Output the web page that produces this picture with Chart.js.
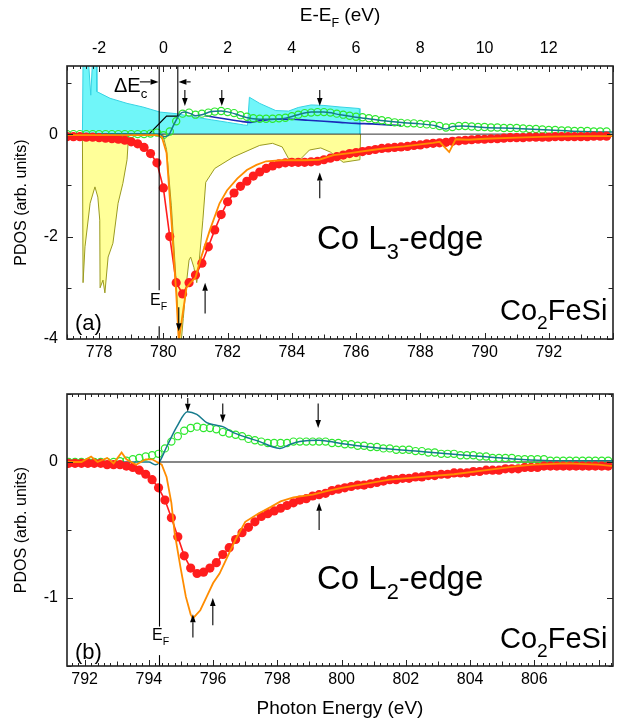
<!DOCTYPE html>
<html><head><meta charset="utf-8">
<script src="https://cdn.jsdelivr.net/npm/chart.js@4.4.1/dist/chart.umd.min.js"></script>
<style>
html,body{margin:0;padding:0;background:#fff;}
#wrap{position:relative;width:624px;height:727px;overflow:hidden;font-family:"Liberation Sans",Arial,Helvetica,sans-serif;color:#000;}
canvas{position:absolute;left:0;}
.lbl{position:absolute;white-space:nowrap;line-height:1;}
.sb{position:relative;font-size:0.66em;top:0.45em;}
</style></head><body>
<div id="wrap">
<canvas id="ca" width="624" height="372" style="top:0"></canvas>
<canvas id="cb" width="624" height="355" style="top:372px"></canvas>
<div class="lbl" style="left:240px;width:200px;text-align:center;top:5px;font-size:19px">E-E<span class="sb">F</span> (eV)</div>
<div class="lbl" style="left:114px;top:75px;font-size:20px">&Delta;E<span class="sb">c</span></div>
<div class="lbl" style="left:317px;top:221px;font-size:33px">Co L<span class="sb">3</span>-edge</div>
<div class="lbl" style="left:500px;top:296px;font-size:29px">Co<span class="sb">2</span>FeSi</div>
<div class="lbl" style="left:75px;top:312px;font-size:22px">(a)</div>
<div class="lbl" style="left:150px;top:292px;font-size:16px">E<span class="sb">F</span></div>
<div class="lbl" style="left:317px;top:561px;font-size:33px">Co L<span class="sb">2</span>-edge</div>
<div class="lbl" style="left:500px;top:624px;font-size:29px">Co<span class="sb">2</span>FeSi</div>
<div class="lbl" style="left:75px;top:641px;font-size:22px">(b)</div>
<div class="lbl" style="left:152px;top:627px;font-size:16px">E<span class="sb">F</span></div>
</div>
<script>
// ================= Panel (a): Co L3-edge =================
const aXRange = [777, 794];
const aYRange = [-4, 1.33];
const aBottomTicks = [778, 780, 782, 784, 786, 788, 790, 792];
const aTopOffset = 780;
const aTopTicks = [-2, 0, 2, 4, 6, 8, 10, 12];
const aYTicks = [-4, -2, 0];
const aEF = 779.87;

const aGreen = [[777.0,0],[777.2,0],[777.4,0],[777.6,0],[777.8,0],[778.0,0],[778.2,0],[778.4,0],[778.6,0],[778.8,0],[779.0,0],[779.2,0],[779.4,0],[779.6,0.01],[779.8,0.03],[780.0,-0.02],[780.2,0.05],[780.4,0.25],[780.6,0.40],[780.8,0.42],[781.0,0.38],[781.2,0.40],[781.4,0.42],[781.6,0.44],[781.8,0.45],[782.0,0.43],[782.2,0.41],[782.4,0.37],[782.6,0.34],[782.8,0.31],[783.0,0.30],[783.2,0.30],[783.4,0.30],[783.6,0.31],[783.8,0.32],[784.0,0.35],[784.2,0.38],[784.4,0.41],[784.6,0.42],[784.8,0.43],[785.0,0.43],[785.2,0.42],[785.4,0.40],[785.6,0.38],[785.8,0.36],[786.0,0.34],[786.2,0.33],[786.4,0.31],[786.6,0.29],[786.8,0.27],[787.0,0.25],[787.2,0.23],[787.4,0.22],[787.6,0.21],[787.8,0.21],[788.0,0.20],[788.2,0.19],[788.4,0.18],[788.6,0.16],[788.8,0.13],[789.0,0.14],[789.2,0.16],[789.4,0.16],[789.6,0.15],[789.8,0.14],[790.0,0.14],[790.2,0.13],[790.4,0.13],[790.6,0.12],[790.8,0.12],[791.0,0.12],[791.2,0.11],[791.4,0.10],[791.6,0.10],[791.8,0.09],[792.0,0.08],[792.2,0.08],[792.4,0.07],[792.6,0.07],[792.8,0.06],[793.0,0.06],[793.2,0.06],[793.4,0.05],[793.6,0.05],[793.8,0.05]];

const aRed = [[777.0,-0.05],[777.2,-0.05],[777.4,-0.05],[777.6,-0.06],[777.8,-0.06],[778.0,-0.07],[778.2,-0.08],[778.4,-0.09],[778.6,-0.10],[778.8,-0.12],[779.0,-0.15],[779.2,-0.19],[779.4,-0.26],[779.6,-0.38],[779.8,-0.56],[780.0,-1.05],[780.2,-2.0],[780.4,-2.9],[780.6,-3.12],[780.8,-2.9],[781.0,-2.75],[781.2,-2.52],[781.4,-2.2],[781.6,-1.87],[781.8,-1.57],[782.0,-1.32],[782.2,-1.15],[782.4,-1.02],[782.6,-0.92],[782.8,-0.82],[783.0,-0.74],[783.2,-0.67],[783.4,-0.62],[783.6,-0.58],[783.8,-0.56],[784.0,-0.55],[784.2,-0.55],[784.4,-0.55],[784.6,-0.54],[784.8,-0.53],[785.0,-0.50],[785.2,-0.47],[785.4,-0.44],[785.6,-0.41],[785.8,-0.38],[786.0,-0.36],[786.2,-0.34],[786.4,-0.32],[786.6,-0.30],[786.8,-0.28],[787.0,-0.27],[787.2,-0.26],[787.4,-0.25],[787.6,-0.24],[787.8,-0.22],[788.0,-0.21],[788.2,-0.19],[788.4,-0.18],[788.6,-0.17],[788.8,-0.16],[789.0,-0.14],[789.2,-0.13],[789.4,-0.12],[789.6,-0.11],[789.8,-0.10],[790.0,-0.10],[790.2,-0.09],[790.4,-0.09],[790.6,-0.08],[790.8,-0.07],[791.0,-0.07],[791.2,-0.07],[791.4,-0.06],[791.6,-0.06],[791.8,-0.06],[792.0,-0.06],[792.2,-0.05],[792.4,-0.05],[792.6,-0.05],[792.8,-0.05],[793.0,-0.05],[793.2,-0.05],[793.4,-0.04],[793.6,-0.04],[793.8,-0.04]];

const aOrange = [[777.0,-0.02],[779.8,-0.02],[779.95,-0.05],[780.1,-0.37],[780.25,-1.68],[780.4,-3.1],[780.48,-4.05],[780.58,-3.6],[780.72,-3.0],[780.85,-2.9],[781.0,-2.8],[781.15,-2.46],[781.45,-1.87],[781.75,-1.35],[781.98,-1.1],[782.3,-0.87],[782.6,-0.7],[782.9,-0.6],[783.2,-0.53],[783.7,-0.51],[784.4,-0.51],[784.85,-0.5],[785.3,-0.41],[785.8,-0.37],[786.5,-0.31],[787.0,-0.27],[787.5,-0.24],[788.0,-0.2],[788.4,-0.17],[788.6,-0.15],[788.9,-0.35],[789.1,-0.1],[789.5,-0.11],[790.0,-0.09],[791.0,-0.07],[792.0,-0.05],[793.0,-0.04],[794.0,-0.04]];

const aTeal = [[777.0,0],[779.9,0],[780.0,-0.05],[780.15,-0.03],[780.3,0.15],[780.5,0.38],[780.65,0.43],[780.85,0.40],[781.0,0.36],[781.2,0.38],[781.5,0.44],[781.8,0.45],[782.1,0.42],[782.4,0.36],[782.8,0.30],[783.3,0.29],[783.8,0.31],[784.2,0.38],[784.6,0.43],[785.0,0.43],[785.5,0.38],[786.0,0.33],[786.5,0.29],[787.0,0.25],[787.5,0.22],[788.0,0.20],[788.5,0.16],[788.8,0.10],[789.0,0.15],[789.3,0.16],[790.0,0.13],[791.0,0.11],[792.0,0.08],[793.0,0.05],[794.0,0.04]];

const aBlue = [[781.3,0.36],[781.6,0.33],[782.0,0.29],[782.4,0.25],[782.7,0.23],[783.0,0.26],[783.5,0.29],[784.0,0.29],[784.5,0.27],[785.0,0.25],[785.5,0.23],[786.0,0.21],[786.5,0.20],[787.0,0.18],[787.4,0.17]];

const aStep = [[777.0,0],[779.55,0],[780.1,0.35],[780.45,0.35]];

const aCyan = [[777.48,0],[777.5,1.5],[777.66,1.5],[777.74,0.76],[777.8,1.5],[777.92,1.5],[777.93,0.83],[778.34,0.7],[778.87,0.6],[779.36,0.53],[779.9,0.43],[780.4,0.4],[781.0,0.33],[781.5,0.28],[782.0,0.23],[782.5,0.18],[782.62,0.17],[782.68,0.72],[783.0,0.6],[783.5,0.46],[783.9,0.45],[784.2,0.52],[784.6,0.57],[785.0,0.56],[785.5,0.53],[786.1,0.5],[786.12,0]];

const aYellow = [[777.48,0],[777.5,-2.9],[777.56,-2.2],[777.72,-1.35],[777.87,-1.03],[777.96,-1.23],[778.02,-1.68],[778.03,-3.0],[778.12,-2.85],[778.18,-3.1],[778.28,-2.4],[778.43,-2.13],[778.59,-1.35],[778.74,-0.96],[778.87,-0.5],[778.92,0],[779.98,0],[780.1,-0.3],[780.25,-1.4],[780.4,-2.9],[780.52,-4.3],[780.62,-3.6],[780.72,-2.9],[780.8,-2.46],[780.85,-2.4],[780.95,-2.6],[781.04,-2.9],[781.1,-2.6],[781.23,-1.68],[781.32,-0.94],[781.6,-0.67],[782.17,-0.45],[783.0,-0.22],[783.4,-0.18],[783.7,-0.25],[783.9,-0.48],[784.25,-0.5],[784.55,-0.31],[784.9,-0.27],[785.2,-0.35],[785.6,-0.55],[786.12,-0.5],[786.14,0]];

// arrows: [energy, tail value, head value]
const aArrows = [[780.67,0.86,0.55],[781.82,0.86,0.55],[784.87,0.86,0.55],[781.3,-3.5,-2.9],[784.87,-1.25,-0.75],[780.48,-3.38,-3.85]];
// horizontal arrows: [tail energy, head energy, value]
const aHArrows = [[779.27,779.85,1.02],[780.85,780.47,1.02]];
// vertical rules: [energy, from value, to value]
const aVLines = [[aEF,1.4,-3.05],[aEF,-3.75,-4.1],[780.45,1.4,0.35]];

// ================= Panel (b): Co L2-edge =================
const bXRange = [791.45, 808.45];
const bYRange = [-1.5, 0.5];
const bBottomTicks = [792, 794, 796, 798, 800, 802, 804, 806];
const bYTicks = [-1, 0];
const bEF = 794.33;

const bGreen = [[791.5,0],[791.7,0],[791.9,0],[792.1,0],[792.3,0],[792.5,0],[792.7,0],[792.9,0],[793.1,0.005],[793.3,0.01],[793.5,0.02],[793.7,0.03],[793.9,0.04],[794.1,0.05],[794.3,0.06],[794.5,0.10],[794.7,0.15],[794.9,0.19],[795.1,0.23],[795.3,0.25],[795.5,0.26],[795.7,0.25],[795.9,0.25],[796.1,0.24],[796.3,0.22],[796.5,0.21],[796.7,0.20],[796.9,0.19],[797.1,0.17],[797.3,0.16],[797.5,0.15],[797.7,0.14],[797.9,0.14],[798.1,0.14],[798.3,0.14],[798.5,0.15],[798.7,0.15],[798.9,0.15],[799.1,0.15],[799.3,0.15],[799.5,0.15],[799.7,0.14],[799.9,0.14],[800.1,0.13],[800.3,0.13],[800.5,0.12],[800.7,0.12],[800.9,0.11],[801.1,0.11],[801.3,0.10],[801.5,0.10],[801.7,0.09],[801.9,0.09],[802.1,0.09],[802.3,0.08],[802.5,0.08],[802.7,0.07],[802.9,0.07],[803.1,0.06],[803.3,0.06],[803.5,0.06],[803.7,0.05],[803.9,0.05],[804.1,0.05],[804.3,0.04],[804.5,0.04],[804.7,0.03],[804.9,0.03],[805.1,0.03],[805.3,0.03],[805.5,0.02],[805.7,0.02],[805.9,0.02],[806.1,0.02],[806.3,0.02],[806.5,0.01],[806.7,0.01],[806.9,0.01],[807.1,0.01],[807.3,0.01],[807.5,0.01],[807.7,0.01],[807.9,0.01],[808.1,0.01],[808.3,0.01]];

const bRed = [[791.5,-0.01],[791.7,-0.01],[791.9,-0.01],[792.1,-0.01],[792.3,-0.01],[792.5,-0.01],[792.7,-0.02],[792.9,-0.02],[793.1,-0.02],[793.3,-0.03],[793.5,-0.04],[793.7,-0.06],[793.9,-0.09],[794.1,-0.13],[794.3,-0.19],[794.5,-0.28],[794.7,-0.41],[794.9,-0.55],[795.1,-0.69],[795.3,-0.78],[795.5,-0.82],[795.7,-0.81],[795.9,-0.78],[796.1,-0.74],[796.3,-0.68],[796.5,-0.63],[796.7,-0.57],[796.9,-0.52],[797.1,-0.48],[797.3,-0.44],[797.5,-0.40],[797.7,-0.38],[797.9,-0.36],[798.1,-0.34],[798.3,-0.32],[798.5,-0.30],[798.7,-0.28],[798.9,-0.27],[799.1,-0.25],[799.3,-0.24],[799.5,-0.23],[799.7,-0.21],[799.9,-0.20],[800.1,-0.19],[800.3,-0.18],[800.5,-0.17],[800.7,-0.17],[800.9,-0.16],[801.1,-0.15],[801.3,-0.14],[801.5,-0.13],[801.7,-0.13],[801.9,-0.12],[802.1,-0.12],[802.3,-0.11],[802.5,-0.11],[802.7,-0.10],[802.9,-0.10],[803.1,-0.09],[803.3,-0.09],[803.5,-0.08],[803.7,-0.08],[803.9,-0.08],[804.1,-0.07],[804.3,-0.07],[804.5,-0.06],[804.7,-0.06],[804.9,-0.06],[805.1,-0.05],[805.3,-0.05],[805.5,-0.05],[805.7,-0.04],[805.9,-0.04],[806.1,-0.04],[806.3,-0.03],[806.5,-0.03],[806.7,-0.03],[806.9,-0.03],[807.1,-0.03],[807.3,-0.03],[807.5,-0.03],[807.7,-0.03],[807.9,-0.03],[808.1,-0.03],[808.3,-0.03]];

const bOrange = [[791.45,0],[791.9,0],[792.2,0.04],[792.4,0],[792.7,0.03],[792.9,-0.01],[793.15,0.07],[793.3,0.02],[793.6,-0.02],[793.9,0.02],[794.1,0.02],[794.25,0],[794.4,-0.02],[794.55,-0.11],[794.7,-0.3],[794.8,-0.52],[794.98,-0.77],[795.15,-0.99],[795.3,-1.12],[795.37,-1.15],[795.6,-1.09],[795.8,-0.99],[796.0,-0.89],[796.2,-0.82],[796.4,-0.72],[796.7,-0.57],[797.0,-0.44],[797.4,-0.38],[797.8,-0.33],[798.1,-0.29],[798.5,-0.26],[799.1,-0.24],[799.6,-0.21],[800.0,-0.19],[800.5,-0.17],[801.5,-0.13],[802.5,-0.11],[803.5,-0.09],[804.5,-0.06],[805.5,-0.03],[806.0,-0.02],[807.0,-0.01],[808.0,-0.02],[808.45,-0.03]];

const bTeal = [[791.45,0],[794.0,0],[794.2,-0.02],[794.3,-0.01],[794.55,0.11],[794.87,0.26],[795.2,0.37],[795.49,0.35],[795.8,0.29],[796.1,0.27],[796.3,0.26],[796.6,0.22],[797.05,0.18],[797.45,0.15],[797.86,0.11],[798.08,0.10],[798.4,0.13],[798.7,0.15],[799.3,0.16],[799.9,0.14],[800.5,0.12],[801.3,0.10],[802.3,0.08],[803.3,0.06],[804.4,0.04],[805.5,0.02],[806.5,0.01],[808.45,0.01]];

const bArrows = [[795.21,0.47,0.37],[796.3,0.43,0.29],[799.27,0.43,0.25],[799.3,-0.5,-0.3],[795.37,-1.29,-1.12],[795.99,-1.2,-1.0]];
const bVLines = [[bEF,0.6,-1.21],[bEF,-1.42,-1.6]];

// ================= helpers =================
const FONT = '"Liberation Sans", Arial, Helvetica, sans-serif';
const pts = arr => arr.map(([x, y]) => ({x, y}));
const lineDS = (data, color, w, extra) => Object.assign({data: pts(data), borderColor: color, borderWidth: w, pointRadius: 0, fill: false, tension: 0}, extra || {});
const redDS = data => ({data: pts(data), borderColor: '#ff1d1d', borderWidth: 1.6, pointRadius: 4.6, pointBackgroundColor: '#ff1d1d', pointBorderWidth: 0, fill: false, tension: 0});
const greenDS = data => ({data: pts(data), showLine: false, pointRadius: 3.6, pointBorderColor: '#2ee82e', pointBackgroundColor: 'rgba(0,0,0,0)', pointBorderWidth: 1.2});

const deco = {
  id: 'deco',
  afterDatasetsDraw(chart, args, o) {
    const {ctx, chartArea: a} = chart;
    const xs = chart.scales.x, ys = chart.scales.y;
    ctx.save();
    ctx.beginPath(); ctx.rect(a.left, a.top, a.right - a.left, a.bottom - a.top); ctx.clip();
    ctx.strokeStyle = '#000'; ctx.fillStyle = '#000'; ctx.lineWidth = 1.1;
    (o.vlines || []).forEach(([e, v1, v2]) => {
      const x = xs.getPixelForValue(e);
      ctx.beginPath(); ctx.moveTo(x, ys.getPixelForValue(v1)); ctx.lineTo(x, ys.getPixelForValue(v2)); ctx.stroke();
    });
    const hl = 8, hw = 2.8;
    (o.arrows || []).forEach(([e, v1, v2]) => {
      const x = xs.getPixelForValue(e), y1 = ys.getPixelForValue(v1), y2 = ys.getPixelForValue(v2);
      const d = Math.sign(y2 - y1);
      ctx.beginPath(); ctx.moveTo(x, y1); ctx.lineTo(x, y2 - d * hl); ctx.stroke();
      ctx.beginPath(); ctx.moveTo(x, y2); ctx.lineTo(x - hw, y2 - d * hl); ctx.lineTo(x + hw, y2 - d * hl); ctx.closePath(); ctx.fill();
    });
    (o.harrows || []).forEach(([e1, e2, v]) => {
      const x1 = xs.getPixelForValue(e1), x2 = xs.getPixelForValue(e2), y = ys.getPixelForValue(v);
      const d = Math.sign(x2 - x1);
      ctx.beginPath(); ctx.moveTo(x1, y); ctx.lineTo(x2 - d * hl, y); ctx.stroke();
      ctx.beginPath(); ctx.moveTo(x2, y); ctx.lineTo(x2 - d * hl, y - hw); ctx.lineTo(x2 - d * hl, y + hw); ctx.closePath(); ctx.fill();
    });
    ctx.restore();
  },
  afterDraw(chart, args, o) {
    const {ctx, chartArea: a} = chart;
    const xs = chart.scales.x, ys = chart.scales.y, xt = chart.scales.x2 || xs;
    ctx.save();
    ctx.strokeStyle = '#222'; ctx.lineWidth = 1;
    const run = (sc, step, mid, major, fn) => {
      const s = Math.ceil(sc.min / step - 1e-6), e = Math.floor(sc.max / step + 1e-6);
      for (let i = s; i <= e; i++) {
        const v = i * step;
        const isMaj = Math.abs(v / major - Math.round(v / major)) < 1e-6;
        const isMid = Math.abs(v / mid - Math.round(v / mid)) < 1e-6;
        fn(sc.getPixelForValue(v), isMaj ? 6 : (isMid ? 4.5 : 3));
      }
    };
    ctx.beginPath();
    run(xs, 0.2, 1, 2, (p, l) => { const x = Math.round(p) + 0.5; ctx.moveTo(x, a.bottom); ctx.lineTo(x, a.bottom - l); });
    run(xt, 0.2, 1, 2, (p, l) => { const x = Math.round(p) + 0.5; ctx.moveTo(x, a.top); ctx.lineTo(x, a.top + l); });
    run(ys, o.yMinor, o.yMinor, o.yMajor, (p, l) => { const y = Math.round(p) + 0.5; ctx.moveTo(a.left, y); ctx.lineTo(a.left + l, y); ctx.moveTo(a.right, y); ctx.lineTo(a.right - l, y); });
    ctx.stroke();
    ctx.lineWidth = 1.6; ctx.strokeStyle = '#222';
    ctx.strokeRect(a.left, a.top, a.right - a.left, a.bottom - a.top);
    ctx.restore();
  }
};

const tickFont = {family: FONT, size: 16};
function xScale(range, tickVals, pos, h, pad, title) {
  return {
    type: 'linear', position: pos, min: range[0], max: range[1],
    afterBuildTicks: s => { s.ticks = tickVals.map(v => ({value: v})); },
    afterFit: s => { s.height = h; },
    grid: {display: false, drawTicks: false}, border: {display: false},
    ticks: {color: '#000', font: tickFont, padding: pad, maxRotation: 0, autoSkip: false},
    title: title || {display: false}
  };
}
function yScale(range, tickVals) {
  return {
    type: 'linear', position: 'left', min: range[0], max: range[1],
    afterBuildTicks: s => { s.ticks = tickVals.map(v => ({value: v})); },
    afterFit: s => { s.width = 67; },
    grid: {display: false, drawTicks: false}, border: {display: false},
    ticks: {color: '#000', font: tickFont, padding: 9},
    title: {display: true, text: 'PDOS (arb. units)', color: '#000', font: {family: FONT, size: 16}, padding: {top: 12, bottom: 0}}
  };
}
const common = {
  responsive: false, animation: false, events: [],
  plugins: {legend: {display: false}, tooltip: {enabled: false}}
};

new Chart(document.getElementById('ca'), {
  type: 'line',
  data: {datasets: [
    lineDS(aOrange, '#ff8c00', 1.8),
    redDS(aRed),
    lineDS(aTeal, '#157b8c', 1.5, {cubicInterpolationMode: 'monotone'}),
    greenDS(aGreen),
    lineDS(aStep, '#000', 1.2),
    lineDS(aBlue, '#1a2ab8', 1.6, {cubicInterpolationMode: 'monotone'}),
    lineDS([[aEF, 0], [aXRange[1], 0]], '#333', 1),
    lineDS(aCyan, '#35d3e3', 1, {fill: 'origin', backgroundColor: '#70f6f9'}),
    lineDS(aYellow, '#9a9a20', 1, {fill: 'origin', backgroundColor: '#ffff99'})
  ]},
  options: Object.assign({}, common, {
    layout: {padding: {left: 0, right: 11, top: 0, bottom: 0}},
    scales: {
      x: xScale(aXRange, aBottomTicks, 'bottom', 33, 4),
      x2: xScale([aXRange[0] - aTopOffset, aXRange[1] - aTopOffset], aTopTicks, 'top', 66, 8),
      y: yScale(aYRange, aYTicks)
    },
    plugins: Object.assign({}, common.plugins, {deco: {arrows: aArrows, harrows: aHArrows, vlines: aVLines, yMinor: 1, yMajor: 2}})
  }),
  plugins: [deco]
});

new Chart(document.getElementById('cb'), {
  type: 'line',
  data: {datasets: [
    lineDS(bOrange, '#ff8c00', 1.8),
    redDS(bRed),
    lineDS(bTeal, '#157b8c', 1.5, {cubicInterpolationMode: 'monotone'}),
    greenDS(bGreen),
    lineDS([[bEF, 0], [bXRange[1], 0]], '#111', 1.1)
  ]},
  options: Object.assign({}, common, {
    layout: {padding: {left: 0, right: 11, top: 22, bottom: 0}},
    scales: {
      x: xScale(bXRange, bBottomTicks, 'bottom', 61, 4, {display: true, text: 'Photon Energy (eV)', color: '#000', font: {family: FONT, size: 19}, padding: {top: 0, bottom: 7}}),
      y: yScale(bYRange, bYTicks)
    },
    plugins: Object.assign({}, common.plugins, {deco: {arrows: bArrows, vlines: bVLines, yMinor: 0.5, yMajor: 1}})
  }),
  plugins: [deco]
});
</script>
</body></html>
